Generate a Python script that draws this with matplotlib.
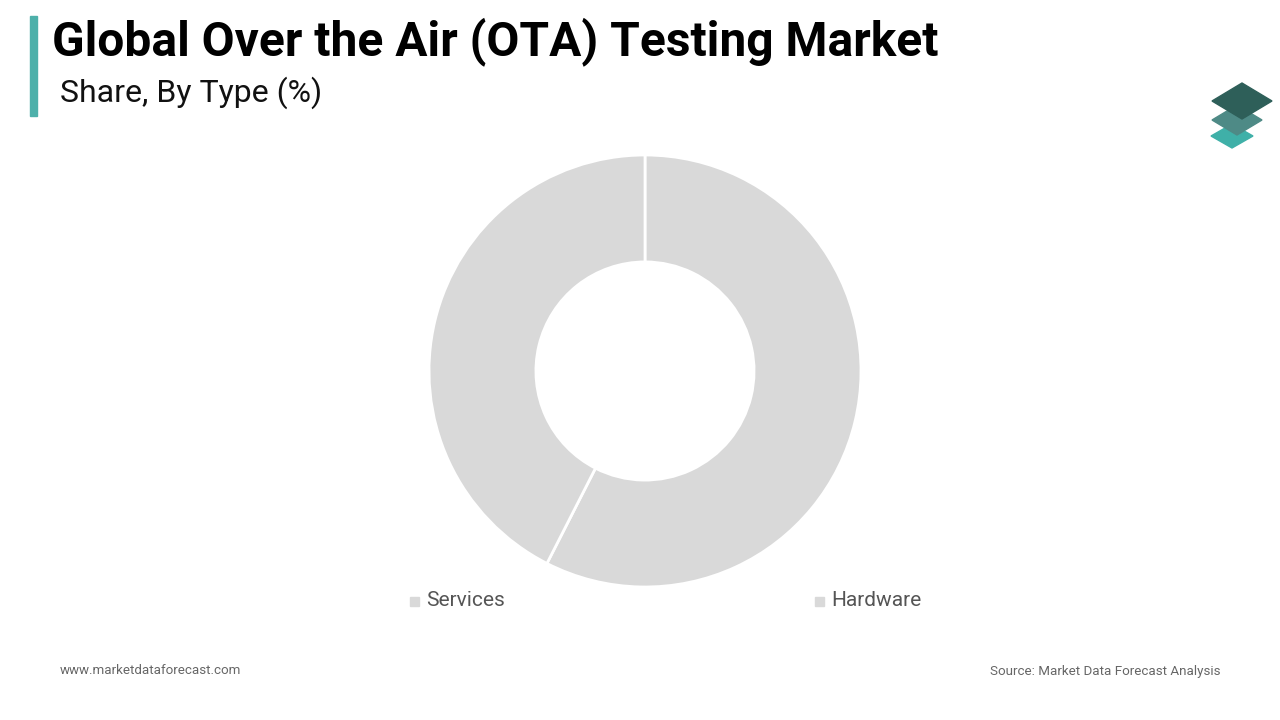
import matplotlib
matplotlib.use("Agg")
import matplotlib.pyplot as plt
from matplotlib.patches import Polygon, Rectangle

plt.rcParams['font.family'] = ['Roboto', 'DejaVu Sans']

# данные
types = ['Services', 'Hardware']
shares = [57.5, 42.5]
slice_colors = ['#d9d9d9', '#d9d9d9']

W, H = 1280, 720
fig = plt.figure(figsize=(12.8, 7.2), dpi=100)
fig.patch.set_facecolor('white')

# заголовок
fig.add_artist(Rectangle((30 / W, 1 - 116 / H), 7 / W, 100 / H,
                         transform=fig.transFigure, color='#4db0aa'))
fig.text(52 / W, 1 - 42 / H, 'Global Over the Air (OTA) Testing Market',
         fontsize=34.5, fontweight='bold', color='#000000', va='center')
fig.text(60 / W, 1 - 93 / H, 'Share, By Type (%)',
         fontsize=23, color='#111111', va='center')

# логотип
def diamond(cx, cy, w, h, color):
    pts = [(cx - w / 2, cy), (cx, cy + h / 2), (cx + w / 2, cy), (cx, cy - h / 2)]
    pts = [(x / W, 1 - y / H) for x, y in pts]
    fig.add_artist(Polygon(pts, closed=True, transform=fig.transFigure,
                           color=color, zorder=3))

diamond(1232, 136, 42, 24, '#3fb0a8')
diamond(1237, 120, 50, 30, '#4e8a86')
diamond(1242, 101, 60, 36, '#2e5f59')

# бублик
ax = fig.add_axes([(645 - 216) / W, 1 - (371 + 216) / H, 432 / W, 432 / H])
ax.pie(shares, colors=slice_colors, startangle=90, counterclock=False,
       radius=1.0, wedgeprops=dict(width=0.495, edgecolor='white', linewidth=2))
ax.set_xlim(-1, 1)
ax.set_ylim(-1, 1)
ax.set_aspect('equal')
ax.axis('off')

# легенда
legend_x = [410, 815]
for x, name in zip(legend_x, types):
    fig.add_artist(Rectangle((x / W, 1 - 606 / H), 9 / W, 9 / H,
                             transform=fig.transFigure, color='#d9d9d9'))
    fig.text((x + 16) / W, 1 - 601 / H, name, fontsize=15,
             color='#555555', va='center')

# подвал
fig.text(60 / W, 1 - 671 / H, 'www.marketdataforecast.com', fontsize=9.6,
         color='#666666', va='center')
fig.text(1220 / W, 1 - 671 / H, 'Source: Market Data Forecast Analysis',
         fontsize=9.6, color='#666666', va='center', ha='right')

fig.savefig('out.png', dpi=100)
